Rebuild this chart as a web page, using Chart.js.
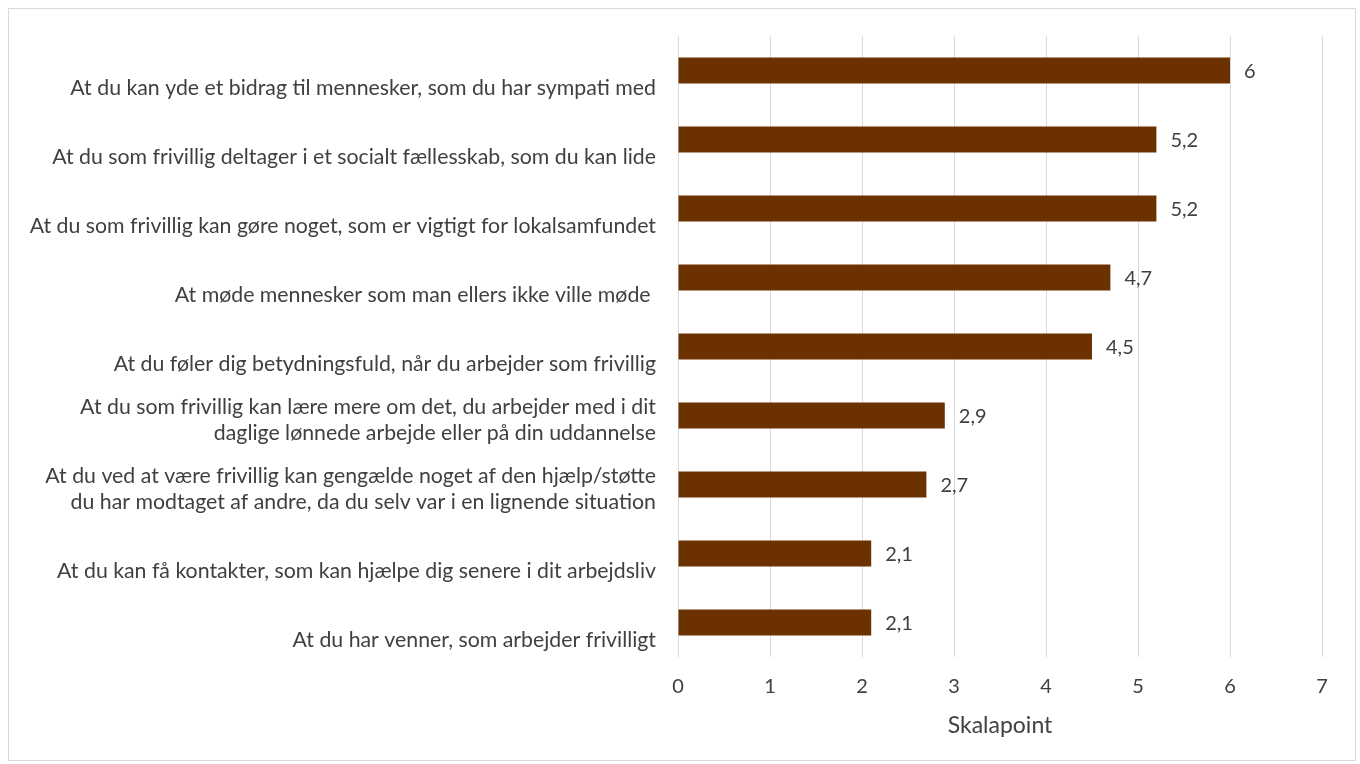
<!DOCTYPE html>
<html>
<head>
<meta charset="utf-8">
<script src="https://cdn.jsdelivr.net/npm/chart.js@4/dist/chart.umd.min.js"></script>
<style>
  html, body { margin: 0; padding: 0; background: #ffffff; }
  #frame { position: absolute; left: 8px; top: 8px; width: 1346px; height: 751px; border: 1px solid #d9d9d9; background: #fff; }
  #c { display: block; }
</style>
</head>
<body>
<div id="frame"><canvas id="c" width="1346" height="751"></canvas></div>
<script>
const categories = [
  ["At du kan yde et bidrag til mennesker, som du har sympati med"],
  ["At du som frivillig deltager i et socialt fællesskab, som du kan lide"],
  ["At du som frivillig kan gøre noget, som er vigtigt for lokalsamfundet"],
  ["At møde mennesker som man ellers ikke ville møde "],
  ["At du føler dig betydningsfuld, når du arbejder som frivillig"],
  ["At du som frivillig kan lære mere om det, du arbejder med i dit", "daglige lønnede arbejde eller på din uddannelse"],
  ["At du ved at være frivillig kan gengælde noget af den hjælp/støtte", "du har modtaget af andre, da du selv var i en lignende situation"],
  ["At du kan få kontakter, som kan hjælpe dig senere i dit arbejdsliv"],
  ["At du har venner, som arbejder frivilligt"]
];
const values = [6, 5.2, 5.2, 4.7, 4.5, 2.9, 2.7, 2.1, 2.1];
const xTicks = [0, 1, 2, 3, 4, 5, 6, 7];
const axisTitle = "Skalapoint";

const FONT = "Lato, 'Open Sans', sans-serif";
const TEXT = "#404040";
const BAR = "#6b3200";

// multi-line labels get a trailing blank line so the text block sits like in the original
const labels = categories.map(l => l.length > 1 ? l.concat([""]) : l[0]);

const valueLabels = {
  id: "valueLabels",
  afterDatasetsDraw(chart) {
    const ctx = chart.ctx;
    const meta = chart.getDatasetMeta(0);
    ctx.save();
    ctx.font = "20px " + FONT;
    ctx.fillStyle = TEXT;
    ctx.textAlign = "left";
    ctx.textBaseline = "middle";
    meta.data.forEach((bar, i) => {
      const txt = String(values[i]).replace(".", ",");
      ctx.fillText(txt, bar.x + 14, bar.y + 1);
    });
    ctx.restore();
  }
};

new Chart(document.getElementById("c"), {
  type: "bar",
  data: {
    labels: labels,
    datasets: [{
      data: values,
      backgroundColor: BAR,
      borderWidth: 0,
      categoryPercentage: 1.0,
      barPercentage: 0.38
    }]
  },
  options: {
    indexAxis: "y",
    responsive: false,
    animation: false,
    layout: { padding: { left: 0, right: 33, top: 27, bottom: 21 } },
    plugins: {
      legend: { display: false },
      tooltip: { enabled: false }
    },
    scales: {
      x: {
        min: xTicks[0],
        max: xTicks[xTicks.length - 1],
        afterBuildTicks: s => { s.ticks = xTicks.map(v => ({ value: v })); },
        afterFit: s => { s.height = 82; },
        grid: { color: "#d9d9d9", lineWidth: 1, drawTicks: false },
        border: { display: false },
        ticks: { color: TEXT, font: { family: FONT, size: 20, lineHeight: 1.2 }, padding: 18 },
        title: {
          display: true,
          text: axisTitle,
          color: TEXT,
          font: { family: FONT, size: 23, lineHeight: 1.2 },
          padding: { top: 0, bottom: 0 }
        }
      },
      y: {
        afterFit: s => { s.width = 669; s.paddingTop = 0; s.paddingBottom = 0; },
        grid: { display: false, drawTicks: false },
        border: { display: false },
        ticks: {
          color: TEXT,
          font: { family: FONT, size: 21.3, lineHeight: 1.22 },
          padding: 22,
          labelOffset: 18,
          autoSkip: false
        }
      }
    }
  },
  plugins: [valueLabels]
});
</script>
</body>
</html>
